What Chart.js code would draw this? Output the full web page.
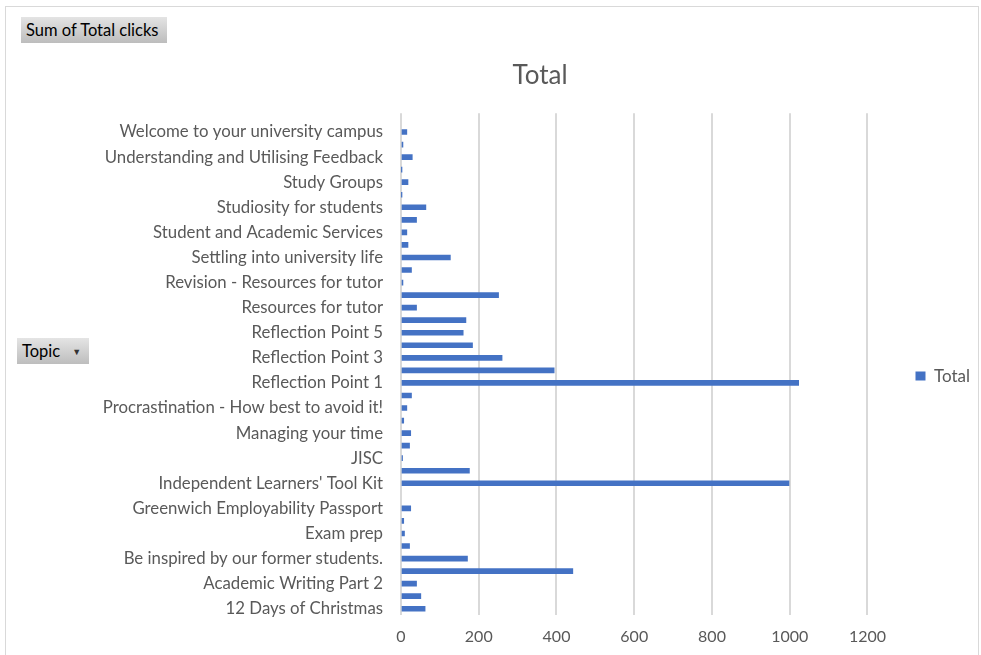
<!DOCTYPE html>
<html>
<head>
<meta charset="utf-8">
<title>Sum of Total clicks by Topic</title>
<script src="https://cdn.jsdelivr.net/npm/chart.js@4.4.1/dist/chart.umd.min.js"></script>
<style>
    body { margin: 0; background: #fff; font-family: Lato, "Open Sans", sans-serif; }
    .frame {
        position: absolute; left: 5px; top: 6px; width: 974px; height: 660px;
        border: 1px solid #d9d9d9; box-sizing: border-box;
    }
    .field-btn {
        position: absolute; color: #000; font-size: 16.5px; line-height: 26px; height: 26px;
        background: linear-gradient(#e4e4e4, #bdbdbd); padding: 0 5px; white-space: nowrap;
    }
    .field-btn .arrow { font-size: 9px; color: #333; margin-left: 12px; vertical-align: 2px; }
    #wrap { position: absolute; left: 100px; top: 0; width: 881px; height: 655px; }
</style>
</head>
<body>
<div class="frame"></div>
<div class="field-btn" style="left:21px; top:17px; width:136px;">Sum of Total clicks</div>
<div class="field-btn" style="left:17px; top:338px; width:62px;">Topic<span class="arrow">&#9660;</span></div>
<div id="wrap"><canvas id="clicksChart"></canvas></div>

<script>
// pivot rows, sorted A-Z (drawn bottom to top)
const topics = [
    "12 Days of Christmas",
    "Academic Writing Part 1",
    "Academic Writing Part 2",
    "Assignment planning",
    "Be inspired by our former students.",
    "Critical Thinking",
    "Exam prep",
    "Getting started",
    "Greenwich Employability Passport",
    "Health and Wellbeing",
    "Independent Learners' Tool Kit",
    "Introduction to referencing",
    "JISC",
    "Library Services",
    "Managing your time",
    "Note taking",
    "Procrastination - How best to avoid it!",
    "Reading Strategies",
    "Reflection Point 1",
    "Reflection Point 2",
    "Reflection Point 3",
    "Reflection Point 4",
    "Reflection Point 5",
    "Reflection Point 6",
    "Resources for tutor",
    "Revision - Exam tips",
    "Revision - Resources for tutor",
    "Revision Tips",
    "Settling into university life",
    "Skills for success",
    "Student and Academic Services",
    "Student Wellbeing",
    "Studiosity for students",
    "Study Abroad",
    "Study Groups",
    "Time management",
    "Understanding and Utilising Feedback",
    "Using the library",
    "Welcome to your university campus",
    "(blank)"
];
const totalClicks = [
    62, 51, 40, 442, 171, 22, 9, 7, 25, null,
    998, 176, 4, 22, 25, 7, 15, 27, 1023, 394,
    260, 184, 160, 167, 40, 251, 5, 27, 127, 18,
    15, 40, 64, 1, 18, 1, 29, 5, 15, null
];
const xTicks = [0, 200, 400, 600, 800, 1000, 1200];

const grey = '#595959';

// nudge the legend down a little so it sits level with the middle rows
const legendShift = {
    id: 'legendShift',
    afterLayout(chart) {
        chart.legend.top += 12;
        chart.legend.bottom += 12;
    }
};

new Chart(document.getElementById('clicksChart').getContext('2d'), {
    type: 'bar',
    data: {
        labels: topics,
        datasets: [{
            label: 'Total',
            data: totalClicks,
            backgroundColor: '#4472C4',
            barThickness: 5
        }]
    },
    options: {
        indexAxis: 'y',
        responsive: true,
        maintainAspectRatio: false,
        animation: false,
        layout: { padding: { top: 0, right: 1, bottom: 0, left: 0 } },
        plugins: {
            title: {
                display: true,
                text: 'Total',
                color: grey,
                font: { family: 'Lato', size: 26, weight: 'normal' },
                padding: { top: 60, bottom: 22 }
            },
            legend: {
                position: 'right',
                fullSize: false,
                labels: {
                    color: grey,
                    font: { family: 'Lato', size: 17 },
                    boxWidth: 10,
                    boxHeight: 9,
                    padding: 48
                }
            },
            tooltip: { enabled: false }
        },
        scales: {
            x: {
                min: 0,
                max: 1200,
                afterBuildTicks: scale => { scale.ticks = xTicks.map(v => ({ value: v })); },
                afterFit: scale => { scale.height = 40; },
                grid: { color: '#d9d9d9', lineWidth: 2, drawTicks: false },
                border: { display: false },
                ticks: {
                    color: grey,
                    font: { family: 'Lato', size: 16 },
                    padding: 12,
                    callback: value => String(value)
                }
            },
            y: {
                reverse: true,
                afterFit: scale => { scale.width = 301; },
                grid: { display: false, drawTicks: false },
                border: { display: false },
                ticks: {
                    autoSkip: false,
                    color: grey,
                    font: { family: 'Lato', size: 16.8 },
                    padding: 18,
                    // only every other topic has room for its name
                    callback: function (value, index) {
                        return index % 2 === 0 ? this.getLabelForValue(value) : '';
                    }
                }
            }
        }
    },
    plugins: [legendShift]
});
</script>
</body>
</html>
